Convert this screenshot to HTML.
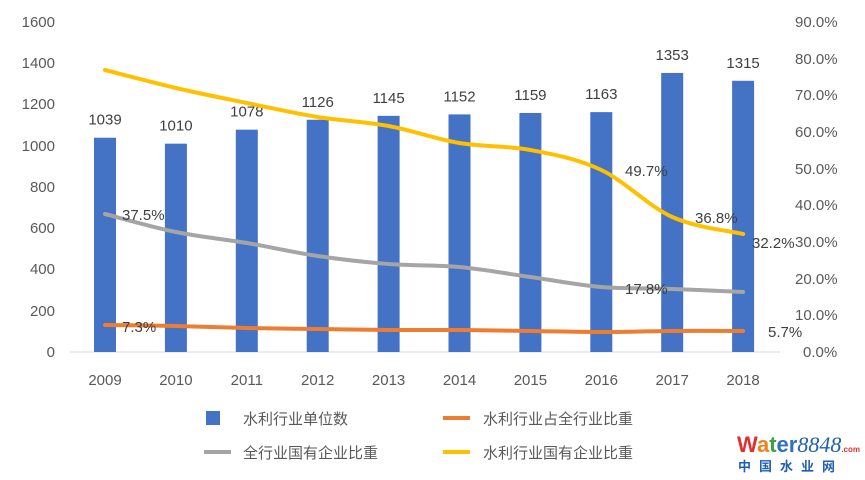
<!DOCTYPE html><html><head><meta charset="utf-8"><style>body{margin:0;background:#fff}svg{display:block;font-family:"Liberation Sans","Noto Sans CJK SC",sans-serif}</style></head><body>
<svg id="s" width="865" height="480" xmlns="http://www.w3.org/2000/svg">
<g fill="#595959" font-size="15" text-anchor="end">
<text x="55" y="357">0</text><text x="55" y="316">200</text><text x="55" y="274">400</text><text x="55" y="233">600</text><text x="55" y="192">800</text><text x="55" y="151">1000</text><text x="55" y="109">1200</text><text x="55" y="68">1400</text><text x="55" y="27">1600</text>
</g>
<g fill="#595959" font-size="15" text-anchor="start">
<text x="803" y="357">0.0%</text><text x="795" y="320">10.0%</text><text x="795" y="284">20.0%</text><text x="795" y="247">30.0%</text><text x="795" y="210">40.0%</text><text x="795" y="174">50.0%</text><text x="795" y="137">60.0%</text><text x="795" y="100">70.0%</text><text x="795" y="64">80.0%</text><text x="795" y="27">90.0%</text>
</g>
<line x1="70" y1="352" x2="780" y2="352" stroke="#d9d9d9"/>
<g id="bars" fill="#4472c4"></g>
<g id="lbl" fill="#404040" font-size="15" text-anchor="middle"></g>
<g id="lines" fill="none" stroke-width="4" stroke-linecap="round"></g>
<g fill="#404040" font-size="15">
<text x="122" y="220">37.5%</text><text x="122" y="332">7.3%</text><text x="625" y="294">17.8%</text><text x="768" y="337">5.7%</text><text x="625" y="176">49.7%</text><text x="695" y="223">36.8%</text><text x="752" y="248">32.2%</text>
</g>
<g fill="#595959" font-size="15">
<rect x="206" y="411" width="14" height="14" fill="#4472c4"/><text x="243" y="424">水利行业单位数</text>
<line x1="443" y1="418" x2="470" y2="418" stroke="#ed7d31" stroke-width="4"/><text x="483" y="424">水利行业占全行业比重</text>
<line x1="204" y1="452" x2="231" y2="452" stroke="#a5a5a5" stroke-width="4"/><text x="243" y="458">全行业国有企业比重</text>
<line x1="443" y1="452" x2="470" y2="452" stroke="#ffc000" stroke-width="4"/><text x="483" y="458">水利行业国有企业比重</text>
</g>
<text x="737" y="452" font-size="22" font-weight="bold" fill="#e03030">W<tspan fill="#f08020">a</tspan><tspan fill="#40a040">t</tspan><tspan fill="#3070c0">er</tspan><tspan font-style="italic" font-weight="normal" font-family="Liberation Serif" fill="#2060b0">8848</tspan><tspan font-size="8" fill="#e03030">.com</tspan></text>
<text x="738" y="471" font-size="13" font-weight="bold" fill="#2060b0" letter-spacing="8">中国水业网</text>
</svg>
<script>
var X=[],v=[1039,1010,1078,1126,1145,1152,1159,1163,1353,1315],yrs=[2009,2010,2011,2012,2013,2014,2015,2016,2017,2018];
for(var i=0;i<10;i++)X.push(105+i*70.9);
var ns="http://www.w3.org/2000/svg",b=document.getElementById("bars"),l=document.getElementById("lbl");
function el(p,t,a,tx){var e=document.createElementNS(ns,t);for(var k in a)e.setAttribute(k,a[k]);if(tx)e.textContent=tx;p.appendChild(e);}
var S=document.getElementById("s");
for(i=0;i<10;i++){var y=352-v[i]*0.20625;el(b,"rect",{x:X[i]-11,y:y,width:22,height:352-y});el(l,"text",{x:X[i],y:y-13},""+v[i]);el(S,"text",{x:X[i],y:385,"font-size":15,fill:"#595959","text-anchor":"middle"},""+yrs[i]);}
function path(Y){var d="M"+X[0]+","+Y[0];for(var i=0;i<9;i++){var p0=i?i-1:0,p3=i<8?i+2:9;var c1x=X[i]+(X[i+1]-X[p0])/6,c1y=Y[i]+(Y[i+1]-Y[p0])/6,c2x=X[i+1]-(X[p3]-X[i])/6,c2y=Y[i+1]-(Y[p3]-Y[i])/6;d+=" C"+c1x+","+c1y+" "+c2x+","+c2y+" "+X[i+1]+","+Y[i+1];}return d;}
var L=document.getElementById("lines");
el(L,"path",{d:path([325,326,328,329,330,330,331,332,331,331]),stroke:"#ed7d31"});
el(L,"path",{d:path([214,232,243,256,264,267,277,287,289,292]),stroke:"#a5a5a5"});
el(L,"path",{d:path([70,88,103,117,126,143,150,170,217,234]),stroke:"#ffc000"});
</script>
</body></html>
